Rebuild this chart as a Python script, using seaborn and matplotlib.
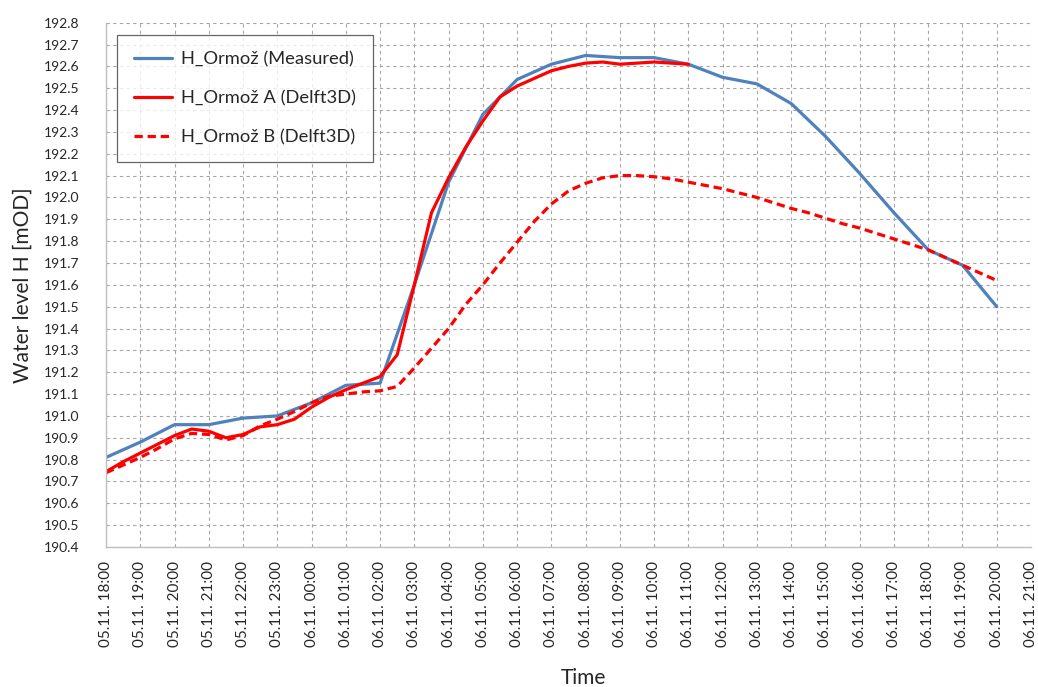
import matplotlib
matplotlib.use("Agg")
import matplotlib.pyplot as plt
import seaborn as sns
import pandas as pd
import numpy as np

# ---- data ----
tick_labels = ["05.11. 18:00", "05.11. 19:00", "05.11. 20:00", "05.11. 21:00", "05.11. 22:00",
               "05.11. 23:00", "06.11. 00:00", "06.11. 01:00", "06.11. 02:00", "06.11. 03:00",
               "06.11. 04:00", "06.11. 05:00", "06.11. 06:00", "06.11. 07:00", "06.11. 08:00",
               "06.11. 09:00", "06.11. 10:00", "06.11. 11:00", "06.11. 12:00", "06.11. 13:00",
               "06.11. 14:00", "06.11. 15:00", "06.11. 16:00", "06.11. 17:00", "06.11. 18:00",
               "06.11. 19:00", "06.11. 20:00", "06.11. 21:00"]

# hours after 05.11. 18:00
hours_measured = [0, 1, 2, 3, 4, 5, 6, 7, 8, 9, 10, 11, 12, 13, 14, 15, 16, 17, 18, 19, 20,
                  21, 22, 23, 24, 25, 26]
h_measured = [190.81, 190.88, 190.96, 190.96, 190.99, 191.00, 191.06, 191.14, 191.15, 191.60,
              192.07, 192.38, 192.54, 192.61, 192.65, 192.64, 192.64, 192.61, 192.55, 192.52,
              192.43, 192.28, 192.11, 191.93, 191.76, 191.69, 191.50]

hours_a = [0, 0.5, 1, 1.5, 2, 2.5, 3, 3.5, 4, 4.5, 5, 5.5, 6, 6.5, 7, 7.5, 8, 8.5, 9, 9.5,
           10, 10.5, 11, 11.5, 12, 12.5, 13, 13.5, 14, 14.5, 15, 15.5, 16, 16.5, 17]
h_a = [190.745, 190.79, 190.83, 190.87, 190.91, 190.94, 190.93, 190.90, 190.915, 190.95,
       190.96, 190.985, 191.04, 191.085, 191.12, 191.15, 191.18, 191.28, 191.60, 191.93,
       192.09, 192.23, 192.35, 192.46, 192.51, 192.545, 192.58, 192.60, 192.615, 192.62,
       192.61, 192.615, 192.62, 192.615, 192.61]

hours_b = [0, 0.5, 1, 1.5, 2, 2.5, 3, 3.5, 4, 4.5, 5, 5.5, 6, 6.5, 7, 7.5, 8, 8.5, 9, 9.5,
           10, 10.5, 11, 11.5, 12, 12.5, 13, 13.5, 14, 14.5, 15, 15.5, 16, 16.5, 17, 17.5,
           18, 18.5, 19, 19.5, 20, 20.5, 21, 21.5, 22, 22.5, 23, 23.5, 24, 24.5, 25, 25.5, 26]
h_b = [190.74, 190.775, 190.81, 190.85, 190.895, 190.92, 190.915, 190.89, 190.91, 190.955,
       190.985, 191.02, 191.06, 191.09, 191.10, 191.11, 191.115, 191.135, 191.22, 191.31,
       191.40, 191.51, 191.60, 191.70, 191.795, 191.89, 191.97, 192.03, 192.065, 192.09,
       192.10, 192.10, 192.095, 192.085, 192.07, 192.055, 192.04, 192.02, 192.00, 191.975,
       191.95, 191.93, 191.905, 191.88, 191.86, 191.835, 191.81, 191.785, 191.76, 191.725,
       191.69, 191.655, 191.62]

y_ticks = [190.4, 190.5, 190.6, 190.7, 190.8, 190.9, 191.0, 191.1, 191.2, 191.3, 191.4, 191.5,
           191.6, 191.7, 191.8, 191.9, 192.0, 192.1, 192.2, 192.3, 192.4, 192.5, 192.6, 192.7,
           192.8]

names = ["H_Ormož (Measured)", "H_Ormož A (Delft3D)", "H_Ormož B (Delft3D)"]

df = pd.concat([
    pd.DataFrame({"t": hours_measured, "H": h_measured, "series": names[0]}),
    pd.DataFrame({"t": hours_a, "H": h_a, "series": names[1]}),
    pd.DataFrame({"t": hours_b, "H": h_b, "series": names[2]}),
], ignore_index=True)

# ---- style ----
sns.set_theme(style="white")
plt.rcParams["font.family"] = ["Lato", "DejaVu Sans"]

fig = plt.figure(figsize=(10.38, 6.87), dpi=100)
ax = fig.add_axes([106 / 1038, 1 - 547 / 687, 925 / 1038, (547 - 22.7) / 687])

palette = {names[0]: "#4f81bd", names[1]: "#ff0000", names[2]: "#ff0000"}
dashes = {names[0]: "", names[1]: "", names[2]: (2.6, 1.5)}
sns.lineplot(data=df, x="t", y="H", hue="series", style="series", palette=palette,
             dashes=dashes, linewidth=2.3, sort=False, ax=ax, estimator=None)

ax.set_xlim(0, 27)
ax.set_ylim(190.4, 192.8)
ax.set_xticks(range(len(tick_labels)))
ax.set_xticklabels(tick_labels, rotation=90, fontsize=11)
ax.set_yticks(y_ticks)
ax.set_yticklabels([f"{v:.1f}" for v in y_ticks], fontsize=10)
ax.tick_params(axis="both", length=0)
ax.tick_params(axis="y", pad=19)
ax.tick_params(axis="x", pad=10)

ax.grid(True, which="major", color="#a6a6a6", linestyle=(0, (3, 3)), linewidth=0.8)
for s in ["top", "right"]:
    ax.spines[s].set_visible(False)
for s in ["left", "bottom"]:
    ax.spines[s].set_color("#bfbfbf")
    ax.spines[s].set_linewidth(1.0)

ax.set_ylabel("Water level H [mOD]", fontsize=15)
ax.set_xlabel("Time", fontsize=15)
ax.yaxis.set_label_coords((33 - 106) / 925, 0.5)
ax.xaxis.set_label_coords((583 - 106) / 925, -(678 - 547) / 524.3)
ax.xaxis.label.set_va("center")

leg = ax.legend(loc="upper left", bbox_to_anchor=((117 - 106) / 925, (547 - 35) / 524.3),
                borderaxespad=0, fontsize=13.2, frameon=True, fancybox=False,
                edgecolor="#404040", handlelength=2.1, handletextpad=0.5,
                labelspacing=1.25, borderpad=0.9, title=None)
leg.get_frame().set_linewidth(0.9)

fig.savefig("out.png", dpi=100)
